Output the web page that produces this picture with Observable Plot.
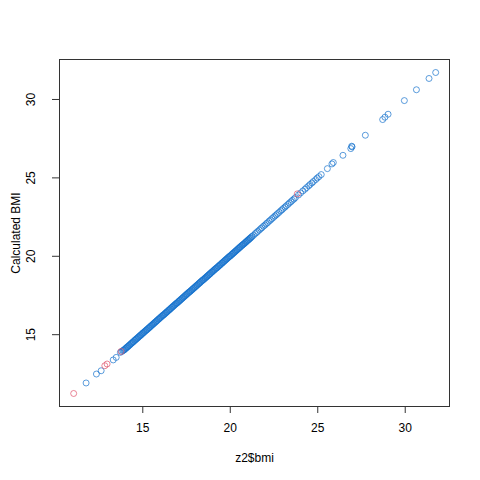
<!DOCTYPE html>
<html>
<head>
<meta charset="utf-8">
<script src="https://cdn.jsdelivr.net/npm/d3@7"></script>
<script src="https://cdn.jsdelivr.net/npm/@observablehq/plot@0.6"></script>
<style>
  body { margin: 0; background: #fff; }
</style>
</head>
<body>
<div id="chart"></div>
<script>
// values
const xTicks = [15, 20, 25, 30];
const yTicks = [15, 20, 25, 30];

const bmiBlue = [
  11.76, 12.35, 12.62, 13.31, 13.48, 13.72, 13.80, 13.86,
  13.90, 13.94, 13.97, 14.02, 14.05, 14.09, 14.13, 14.16, 14.21, 14.24, 14.28, 14.33, 14.36, 14.40, 14.44, 14.47, 14.52, 14.55, 14.59, 14.63,
  14.66, 14.71, 14.74, 14.78, 14.82, 14.86, 14.89, 14.94, 14.97, 15.01, 15.05, 15.08, 15.13, 15.16, 15.20, 15.24, 15.27, 15.32, 15.35, 15.39,
  15.43, 15.46, 15.51, 15.54, 15.58, 15.62, 15.65, 15.70, 15.73, 15.77, 15.81, 15.84, 15.89, 15.92, 15.96, 16.00, 16.03, 16.08, 16.11, 16.15,
  16.19, 16.22, 16.27, 16.30, 16.34, 16.38, 16.41, 16.46, 16.49, 16.53, 16.57, 16.60, 16.65, 16.68, 16.72, 16.76, 16.79, 16.84, 16.87, 16.91,
  16.95, 16.98, 17.03, 17.06, 17.10, 17.14, 17.17, 17.22, 17.25, 17.29, 17.33, 17.36, 17.41, 17.44, 17.48, 17.52, 17.55, 17.60, 17.63, 17.67,
  17.71, 17.74, 17.79, 17.82, 17.86, 17.90, 17.93, 17.98, 18.01, 18.05, 18.09, 18.12, 18.17, 18.20, 18.24, 18.28, 18.31, 18.36, 18.39, 18.43,
  18.47, 18.50, 18.55, 18.58, 18.62, 18.66, 18.69, 18.74, 18.77, 18.81, 18.85, 18.88, 18.93, 18.96, 19.00, 19.04, 19.07, 19.12, 19.15, 19.19,
  19.23, 19.26, 19.31, 19.34, 19.38, 19.42, 19.45, 19.50, 19.53, 19.57, 19.61, 19.64, 19.69, 19.72, 19.76, 19.80, 19.83, 19.88, 19.91, 19.95,
  19.99, 20.02, 20.07, 20.10, 20.14, 20.18, 20.21, 20.26, 20.29, 20.33, 20.37, 20.40, 20.45, 20.48, 20.52, 20.56, 20.59, 20.64, 20.67, 20.71,
  20.75, 20.78, 20.83, 20.86, 20.90, 20.94, 20.97, 21.02, 21.05, 21.09, 21.13, 21.16, 21.21,
  21.25, 21.33, 21.42, 21.50, 21.57, 21.66, 21.74, 21.81, 21.90, 21.98, 22.06, 22.13, 22.22, 22.30, 22.38, 22.47, 22.55, 22.63, 22.70, 22.79,
  22.88, 22.96, 23.04, 23.13, 23.20, 23.30, 23.38, 23.47, 23.55, 23.64, 23.72, 23.90, 24.02,
  24.15, 24.27, 24.36, 24.48, 24.56, 24.67, 24.75, 24.88, 24.97, 25.07, 25.20,
  25.55, 25.81, 25.89, 26.44, 26.89, 26.94, 26.96, 27.72, 28.71, 28.84, 29.02, 29.95, 30.64, 31.36, 31.74
];

const calcBlue = [
  11.92, 12.49, 12.70, 13.39, 13.55, 13.87, 13.93, 13.98,
  14.01, 14.03, 14.08, 14.11, 14.16, 14.18, 14.23, 14.25, 14.31, 14.33, 14.38, 14.42, 14.46, 14.49, 14.54, 14.56, 14.62, 14.64, 14.69, 14.72,
  14.76, 14.79, 14.84, 14.87, 14.92, 14.94, 14.99, 15.02, 15.07, 15.10, 15.14, 15.17, 15.22, 15.25, 15.29, 15.32, 15.36, 15.40, 15.44, 15.47,
  15.52, 15.54, 15.60, 15.62, 15.67, 15.70, 15.74, 15.78, 15.82, 15.85, 15.90, 15.92, 15.98, 16.00, 16.05, 16.08, 16.12, 16.16, 16.20, 16.23,
  16.27, 16.29, 16.35, 16.37, 16.42, 16.45, 16.49, 16.53, 16.57, 16.60, 16.65, 16.67, 16.73, 16.75, 16.80, 16.83, 16.87, 16.91, 16.95, 16.98,
  17.02, 17.04, 17.10, 17.12, 17.17, 17.20, 17.24, 17.28, 17.32, 17.35, 17.40, 17.42, 17.48, 17.50, 17.55, 17.58, 17.62, 17.66, 17.70, 17.73,
  17.77, 17.79, 17.85, 17.87, 17.92, 17.95, 17.99, 18.03, 18.07, 18.10, 18.15, 18.17, 18.23, 18.25, 18.30, 18.33, 18.37, 18.41, 18.45, 18.48,
  18.52, 18.54, 18.60, 18.62, 18.67, 18.70, 18.74, 18.78, 18.82, 18.85, 18.90, 18.92, 18.98, 19.00, 19.05, 19.08, 19.12, 19.16, 19.20, 19.23,
  19.27, 19.29, 19.35, 19.37, 19.42, 19.45, 19.49, 19.53, 19.57, 19.60, 19.65, 19.67, 19.73, 19.75, 19.80, 19.83, 19.87, 19.91, 19.95, 19.98,
  20.02, 20.04, 20.10, 20.12, 20.17, 20.20, 20.24, 20.28, 20.32, 20.35, 20.40, 20.42, 20.48, 20.50, 20.55, 20.58, 20.62, 20.66, 20.70, 20.73,
  20.77, 20.79, 20.85, 20.87, 20.92, 20.95, 20.99, 21.03, 21.07, 21.10, 21.15, 21.17, 21.23,
  21.27, 21.34, 21.44, 21.51, 21.59, 21.67, 21.76, 21.82, 21.92, 21.99, 22.08, 22.14, 22.24, 22.31, 22.40, 22.48, 22.57, 22.64, 22.72, 22.80,
  22.90, 22.97, 23.06, 23.14, 23.22, 23.31, 23.40, 23.48, 23.57, 23.65, 23.74, 23.91, 24.04,
  24.17, 24.28, 24.38, 24.49, 24.58, 24.68, 24.77, 24.89, 24.99, 25.08, 25.21,
  25.59, 25.89, 25.98, 26.44, 26.87, 27.02, 26.98, 27.72, 28.72, 28.87, 29.06, 29.93, 30.62, 31.34, 31.72
];

const bmiRed = [11.05, 12.83, 12.96, 13.76, 23.83];
const calcRed = [11.25, 13.02, 13.13, 13.93, 23.98];

const blue = bmiBlue.map((x, i) => ({x, y: calcBlue[i]}));
const red = bmiRed.map((x, i) => ({x, y: calcRed[i]}));

const font = "'Liberation Sans', Arial, Helvetica, sans-serif";

const chart = Plot.plot({
  width: 480,
  height: 480,
  marginTop: 59,
  marginRight: 31,
  marginBottom: 74,
  marginLeft: 59,
  style: {fontFamily: font, fontSize: "12px", background: "#fff", color: "#000"},
  x: {domain: [10.24, 32.53]},
  y: {domain: [10.42, 32.55]},
  marks: [
    Plot.dot(blue, {x: "x", y: "y", r: 3, fill: "none", stroke: "#1874CD", strokeOpacity: 0.7, strokeWidth: 1}),
    Plot.dot(red, {x: "x", y: "y", r: 3, fill: "none", stroke: "#DF536B", strokeOpacity: 0.7, strokeWidth: 1}),
    Plot.frame({stroke: "#333"}),
    Plot.axisX({ticks: xTicks, tickSize: 7, tickFormat: () => "", stroke: "#333", label: null}),
    Plot.axisY({ticks: yTicks, tickSize: 7, tickFormat: () => "", stroke: "#333", label: null}),
    Plot.text(xTicks, {x: d => d, frameAnchor: "bottom", dy: 22, lineAnchor: "middle", text: d => String(d), fill: "#000"}),
    Plot.text(yTicks, {y: d => d, frameAnchor: "left", dx: -28, rotate: -90, textAnchor: "middle", lineAnchor: "middle", text: d => String(d), fill: "#000"}),
    Plot.text(["z2$bmi"], {frameAnchor: "bottom", dy: 52, lineAnchor: "middle", text: d => d, fill: "#000"}),
    Plot.text(["Calculated BMI"], {frameAnchor: "left", dx: -43, rotate: -90, textAnchor: "middle", lineAnchor: "middle", text: d => d, fill: "#000"})
  ]
});

document.getElementById("chart").append(chart);
</script>
</body>
</html>
